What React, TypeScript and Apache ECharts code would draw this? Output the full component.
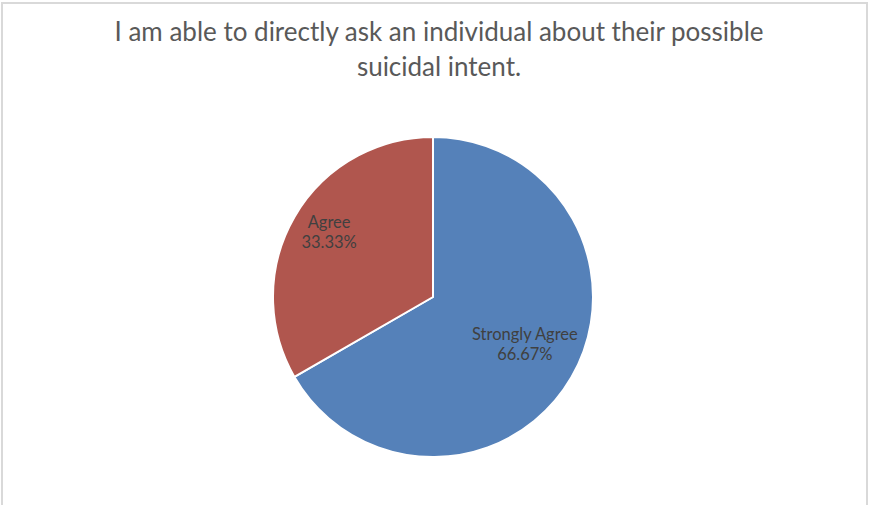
import React, { useEffect, useRef } from "react";
import * as echarts from "echarts";

const titleText = "I am able to directly ask an individual about their possible\nsuicidal intent.";
const categories = ["Strongly Agree", "Agree"];
const values = [66.67, 33.33];
const colors = ["#5581b9", "#b0564e"];
const labelOffsets = [[20, 5], [-32, -23]];

export default function App() {
  const ref = useRef<HTMLDivElement>(null);
  useEffect(() => {
    document.body.style.margin = "0";
    const chart = echarts.init(ref.current!, null, { renderer: "svg" });
    chart.setOption({
      animation: false,
      backgroundColor: "#ffffff",
      title: {
        text: titleText,
        left: 434,
        top: 8,
        textAlign: "center",
        textStyle: {
          fontFamily: "Lato",
          fontSize: 26,
          fontWeight: "normal",
          color: "#595959",
          lineHeight: 35,
        },
      },
      graphic: [
        {
          type: "rect",
          shape: { x: 2, y: 3, width: 865, height: 540 },
          style: { fill: "none", stroke: "#d9d9d9", lineWidth: 2 },
          silent: true,
        },
      ],
      series: [
        {
          type: "pie",
          center: [433, 297],
          radius: 160,
          startAngle: 90,
          clockwise: true,
          itemStyle: { borderColor: "#ffffff", borderWidth: 2 },
          label: {
            show: true,
            position: "inside",
            formatter: (p: any) => `${p.name}\n${p.value.toFixed(2)}%`,
            fontFamily: "Lato",
            fontSize: 16.5,
            color: "#404040",
            lineHeight: 20,
          },
          labelLine: { show: false },
          data: categories.map((c, i) => ({
            name: c,
            value: values[i],
            itemStyle: { color: colors[i] },
            label: { offset: labelOffsets[i] },
          })),
        },
      ],
    });
    return () => chart.dispose();
  }, []);
  return <div ref={ref} style={{ width: 869, height: 505 }} />;
}
